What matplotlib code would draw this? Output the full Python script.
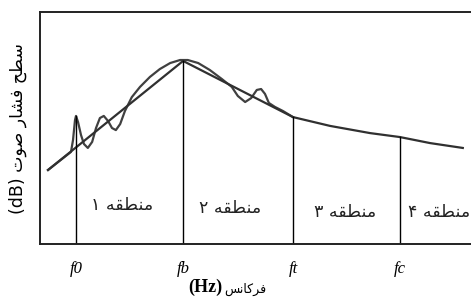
import matplotlib
matplotlib.use("Agg")
import matplotlib.pyplot as plt

# schematic: sound pressure level vs frequency, arbitrary units (0..100)
freq_ticks = [8.35, 33.2, 58.7, 83.5]
tick_labels = ["f0", "fb", "ft", "fc"]
tick_tops = [55.2, 78.9, 54.7, 46.1]

# straight-line approximation
line_x = [1.86, 33.2, 58.7, 67.3, 76.6, 83.5, 90.5, 98.1]
line_y = [31.9, 78.9, 54.7, 50.9, 47.8, 46.1, 43.5, 41.4]

# measured (wavy) response
wave_x = [1.86, 7.19, 7.66, 8.12, 8.35, 8.82, 9.51, 10.2, 11.1, 12.1, 13.0,
          13.9, 14.8, 15.8, 16.7, 17.6, 18.6, 19.7, 21.3, 23.2, 25.5, 27.8,
          30.2, 32.5, 34.3, 36.7, 39.4, 42.2, 44.5, 45.9, 47.6, 49.0, 50.3,
          51.3, 52.2, 53.1, 54.5, 56.4, 58.7]
wave_y = [31.9, 39.7, 44.8, 53.4, 55.2, 52.6, 47.0, 43.1, 41.4, 44.0, 50.0,
          54.3, 55.2, 53.0, 50.0, 49.1, 51.7, 57.3, 63.3, 67.7, 72.0, 75.4,
          78.0, 79.3, 79.3, 78.0, 75.0, 71.1, 67.7, 63.8, 61.2, 62.9, 66.4,
          66.8, 64.7, 60.8, 59.1, 57.3, 54.7]

# Arabic letters pre-shaped (presentation forms), in visual left-to-right order
word_region = "\uFEEA\uFED8\uFEC4\uFEE8\uFEE3"
region_digits = ["\u06F1", "\u06F2", "\u06F3", "\u06F4"]
region_x = [19.0, 44.1, 70.8, 92.6]
region_y = [16.8, 15.5, 13.8, 13.8]

ylabel = ("(dB) " + "\uFE95\uFEEE\uFEBB" + " " + "\uFEAD\uFE8E\uFEB8\uFED3"
          + " " + "\uFEA2\uFEC4\uFEB3")
xlabel_word = "\uFEB2\uFEE7\uFE8E\uFB90\uFEAE\uFED3"

fig = plt.figure(figsize=(4.71, 2.98), dpi=100)
ax = fig.add_axes([40 / 471, 54 / 298, 431 / 471, 232 / 298])
ax.set_xlim(0, 100)
ax.set_ylim(0, 100)

ax.plot(wave_x, wave_y, color="#404040", lw=1.6, solid_joinstyle="round")
ax.plot(line_x, line_y, color="#303030", lw=1.6, solid_joinstyle="round")
for x, top in zip(freq_ticks, tick_tops):
    ax.plot([x, x], [0, top], color="black", lw=1.0)

for x, y, d in zip(region_x, region_y, region_digits):
    ax.text(x, y, d + " " + word_region, ha="center", va="center",
            fontsize=12.5, family="DejaVu Sans", color="#222222")

for side in ["top", "left", "bottom"]:
    ax.spines[side].set_linewidth(1.4)
    ax.spines[side].set_color("#222222")
ax.spines["right"].set_visible(False)

ax.set_yticks([])
ax.set_xticks(freq_ticks)
ax.set_xticklabels(tick_labels, family="Liberation Serif", style="italic",
                   fontsize=12)
ax.tick_params(axis="x", length=0, pad=12)

ax.set_ylabel(ylabel, family="DejaVu Sans", fontsize=12.5, labelpad=9)
fig.text(0.472, 0.035, "(Hz)", family="Liberation Serif", weight="bold",
         fontsize=13, ha="right", va="center")
fig.text(0.477, 0.03, xlabel_word, family="DejaVu Sans", fontsize=9,
         ha="left", va="center")

fig.savefig("out.png", dpi=100)
